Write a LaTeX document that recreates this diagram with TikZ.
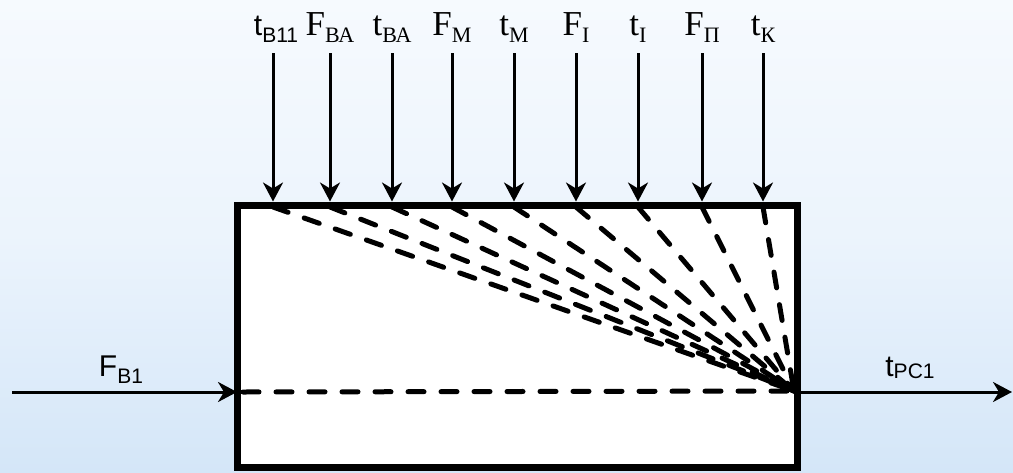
\documentclass[tikz,border=0pt]{standalone}
\usepackage{fontspec}
\setmainfont{Liberation Serif}
\newfontfamily\arialf{Liberation Sans}
\usetikzlibrary{arrows.meta}
\newcommand\labS[2]{#1\raisebox{-7pt}{\fontsize{22}{22}\selectfont #2}}
\newcommand\labA[3]{{\arialf\fontsize{30}{30}\selectfont #1\raisebox{#3}{\fontsize{21}{21}\selectfont #2}}}
\definecolor{bgtop}{RGB}{246,250,254}
\definecolor{bgbot}{RGB}{212,230,248}
\begin{document}
\begin{tikzpicture}[x=1pt,y=-1pt,
  arr/.style={line width=3pt,-{Stealth[length=19pt,width=20pt,inset=6pt]}},
  dsh/.style={line width=5pt,line cap=round,dash pattern=on 16pt off 17pt},
  toplab/.style={anchor=base,inner sep=0pt,font=\fontsize{35}{35}\selectfont},
  botlab/.style={anchor=base,inner sep=0pt}]
\useasboundingbox (0,0) rectangle (1013,472);
\shade[top color=bgtop,bottom color=bgbot,middle color=bgtop!70!bgbot] (0,0) rectangle (1013,472);
\node (box) at (517,336) [rectangle,draw,fill=white,line width=7pt,minimum width=560pt,minimum height=262pt,inner sep=0pt] {};
\coordinate (c) at (794,391);
\coordinate (inL) at (237,392);
\coordinate (inR) at (797,392);
\coordinate (s0) at (12,392);
\coordinate (e0) at (1012,392);
% dashed fan
\foreach \i/\x in {1/273,2/330,3/392,4/452,5/514,6/576,7/638,8/702,9/763}{
  \coordinate (a\i) at (\x,53);
  \coordinate (b\i) at (\x,201.5);
  \coordinate (d\i) at (\x,207);
  \draw[dsh] (d\i) -- (c);
  \draw[arr] (a\i) -- (b\i);
}
\coordinate (inL2) at (243,392);
\draw[dsh] (inL2) -- (c);
\draw[arr] (s0) -- (inL);
\draw[arr] (inR) -- (e0);
% labels
\node[toplab] (l1) at (276,35) {\labA{t}{B11}{-7pt}};
\node[toplab] (l2) at (330,35) {\labS{F}{ВА}};
\node[toplab] (l3) at (392,35) {\labS{t}{ВА}};
\node[toplab] (l4) at (452,35) {\labS{F}{М}};
\node[toplab] (l5) at (514,35) {\labS{t}{М}};
\node[toplab] (l6) at (576,35) {\labS{F}{I}};
\node[toplab] (l7) at (638,35) {\labS{t}{I}};
\node[toplab] (l8) at (702,35) {\labS{F}{П}};
\node[toplab] (l9) at (763,35) {\labS{t}{К}};
\node[botlab] (fb1) at (121,376) {\labA{F}{B1}{-7pt}};
\node[botlab] (tpc) at (910,376) {\labA{t}{PC1}{-2pt}};
\end{tikzpicture}
\end{document}
